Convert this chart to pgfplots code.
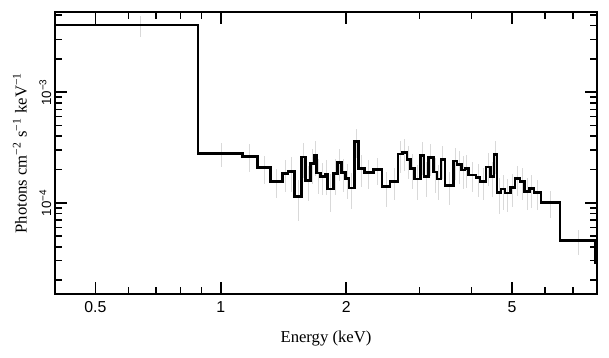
\documentclass[border=0pt]{standalone}
\usepackage{pgfplots}
\pgfplotsset{compat=1.18}
\usepackage{pgfplotstable}
\usepackage{fontspec}
\setmainfont{Liberation Serif}
\newfontfamily\tickfont{Liberation Sans}

\pgfplotstableread{
x y
0.4 4.035e-3
0.8810 2.791e-4
1.1264 2.638e-4
1.2240 2.072e-4
1.3174 1.568e-4
1.4055 1.840e-4
1.4500 1.931e-4
1.5006 1.147e-4
1.5646 2.595e-4
1.5996 1.591e-4
1.6443 2.265e-4
1.6765 2.677e-4
1.6999 1.860e-4
1.7332 1.740e-4
1.7818 1.803e-4
1.8016 1.333e-4
1.8658 1.829e-4
1.9044 2.328e-4
1.9492 1.867e-4
1.9906 1.658e-4
2.0296 1.366e-4
2.0947 3.606e-4
2.1416 2.042e-4
2.2115 1.887e-4
2.3218 2.000e-4
2.4397 1.410e-4
2.5459 1.568e-4
2.6656 2.762e-4
2.7313 2.832e-4
2.7970 2.463e-4
2.8549 2.050e-4
2.9123 1.641e-4
3.0107 2.677e-4
3.0730 1.729e-4
3.1505 2.552e-4
3.2354 1.899e-4
3.3024 1.641e-4
3.3763 2.447e-4
3.4519 1.434e-4
3.6140 2.387e-4
3.6888 2.220e-4
3.7860 1.979e-4
3.8558 2.042e-4
3.9268 1.784e-4
4.0996 1.693e-4
4.1915 1.558e-4
4.3331 2.107e-4
4.4473 1.740e-4
4.5293 2.733e-4
4.6052 1.232e-4
4.7082 1.333e-4
4.8136 1.227e-4
4.9624 1.375e-4
5.0875 1.648e-4
5.2303 1.568e-4
5.3563 1.273e-4
5.5126 1.338e-4
5.6514 1.232e-4
5.8747 1.006e-4
6.5244 4.544e-5
7.9170 2.867e-5
8.0 2.867e-5
}\steps

\pgfplotstableread{
x y e
0.640 4.035e-3 0.22
1.004 2.791e-4 0.25
1.175 2.638e-4 0.28
1.271 2.072e-4 0.28
1.361 1.568e-4 0.30
1.428 1.840e-4 0.32
1.475 1.931e-4 0.35
1.533 1.147e-4 0.40
1.582 2.595e-4 0.35
1.622 1.591e-4 0.35
1.660 2.265e-4 0.35
1.688 2.677e-4 0.35
1.717 1.860e-4 0.35
1.758 1.740e-4 0.32
1.792 1.803e-4 0.35
1.834 1.333e-4 0.38
1.885 1.829e-4 0.35
1.927 2.328e-4 0.32
1.970 1.867e-4 0.33
2.010 1.658e-4 0.35
2.062 1.366e-4 0.35
2.118 3.606e-4 0.30
2.177 2.042e-4 0.32
2.267 1.887e-4 0.30
2.381 2.000e-4 0.28
2.493 1.410e-4 0.35
2.606 1.568e-4 0.32
2.698 2.762e-4 0.32
2.764 2.832e-4 0.32
2.826 2.463e-4 0.33
2.884 2.050e-4 0.35
2.962 1.641e-4 0.35
3.042 2.677e-4 0.33
3.112 1.729e-4 0.35
3.193 2.552e-4 0.32
3.269 1.899e-4 0.35
3.339 1.641e-4 0.35
3.414 2.447e-4 0.33
3.533 1.434e-4 0.33
3.651 2.387e-4 0.32
3.737 2.220e-4 0.33
3.821 1.979e-4 0.33
3.891 2.042e-4 0.33
4.013 1.784e-4 0.30
4.146 1.693e-4 0.33
4.262 1.558e-4 0.32
4.390 2.107e-4 0.33
4.488 1.740e-4 0.35
4.567 2.733e-4 0.33
4.657 1.232e-4 0.35
4.761 1.333e-4 0.35
4.888 1.227e-4 0.33
5.025 1.375e-4 0.33
5.159 1.648e-4 0.30
5.293 1.568e-4 0.32
5.434 1.273e-4 0.33
5.582 1.338e-4 0.33
5.763 1.232e-4 0.30
6.200 1.006e-4 0.28
7.221 4.544e-5 0.25
}\errs

\begin{document}
\begin{tikzpicture}
\begin{axis}[
  scale only axis,
  width=325.2pt, height=169.2pt,
  xmode=log, ymode=log,
  xmin=0.4, xmax=8.0,
  ymin=1.5e-5, ymax=5.3e-3,
  axis line style={line width=1.1pt},
  every tick/.style={line width=0.9pt, black},
  tick align=inside,
  xtick={0.5,1,2,5},
  xticklabels={0.5,1,2,5},
  minor xtick={0.6,0.7,0.8,0.9,3,4,6,7},
  ytick={1e-4,1e-3},
  yticklabels={10\textsuperscript{−4},10\textsuperscript{−3}},
  minor ytick={2e-5,3e-5,4e-5,5e-5,6e-5,7e-5,8e-5,9e-5,2e-4,3e-4,4e-4,5e-4,6e-4,7e-4,8e-4,9e-4,2e-3,3e-3,4e-3,5e-3},
  major tick length=7pt,
  minor tick length=4pt,
  xticklabel style={font=\tickfont\fontsize{9.5}{11}\selectfont, yshift=-1pt},
  yticklabel style={font=\tickfont\fontsize{8}{9}\selectfont, rotate=90, anchor=south, inner sep=2pt},
  xlabel={Energy (keV)},
  ylabel={Photons cm\textsuperscript{−2} s\textsuperscript{−1} keV\textsuperscript{−1}},
  label style={font=\fontsize{10}{12}\selectfont},
  xlabel style={yshift=-4pt},
  ylabel style={yshift=2pt},
  clip=true,
]
\addplot[draw=none, mark=none, forget plot,
  error bars/.cd, y dir=both, y explicit relative, error mark=none,
  error bar style={draw=black!15, line width=0.6pt}]
  table[x=x, y=y, y error=e] {\errs};
\addplot[const plot, mark=none, black, line width=1.6pt] table[x=x, y=y] {\steps};
\end{axis}
\pgfresetboundingbox
\path[use as bounding box] (-33pt,-37.8pt) rectangle (332.4pt,176.4pt);
\end{tikzpicture}
\end{document}
